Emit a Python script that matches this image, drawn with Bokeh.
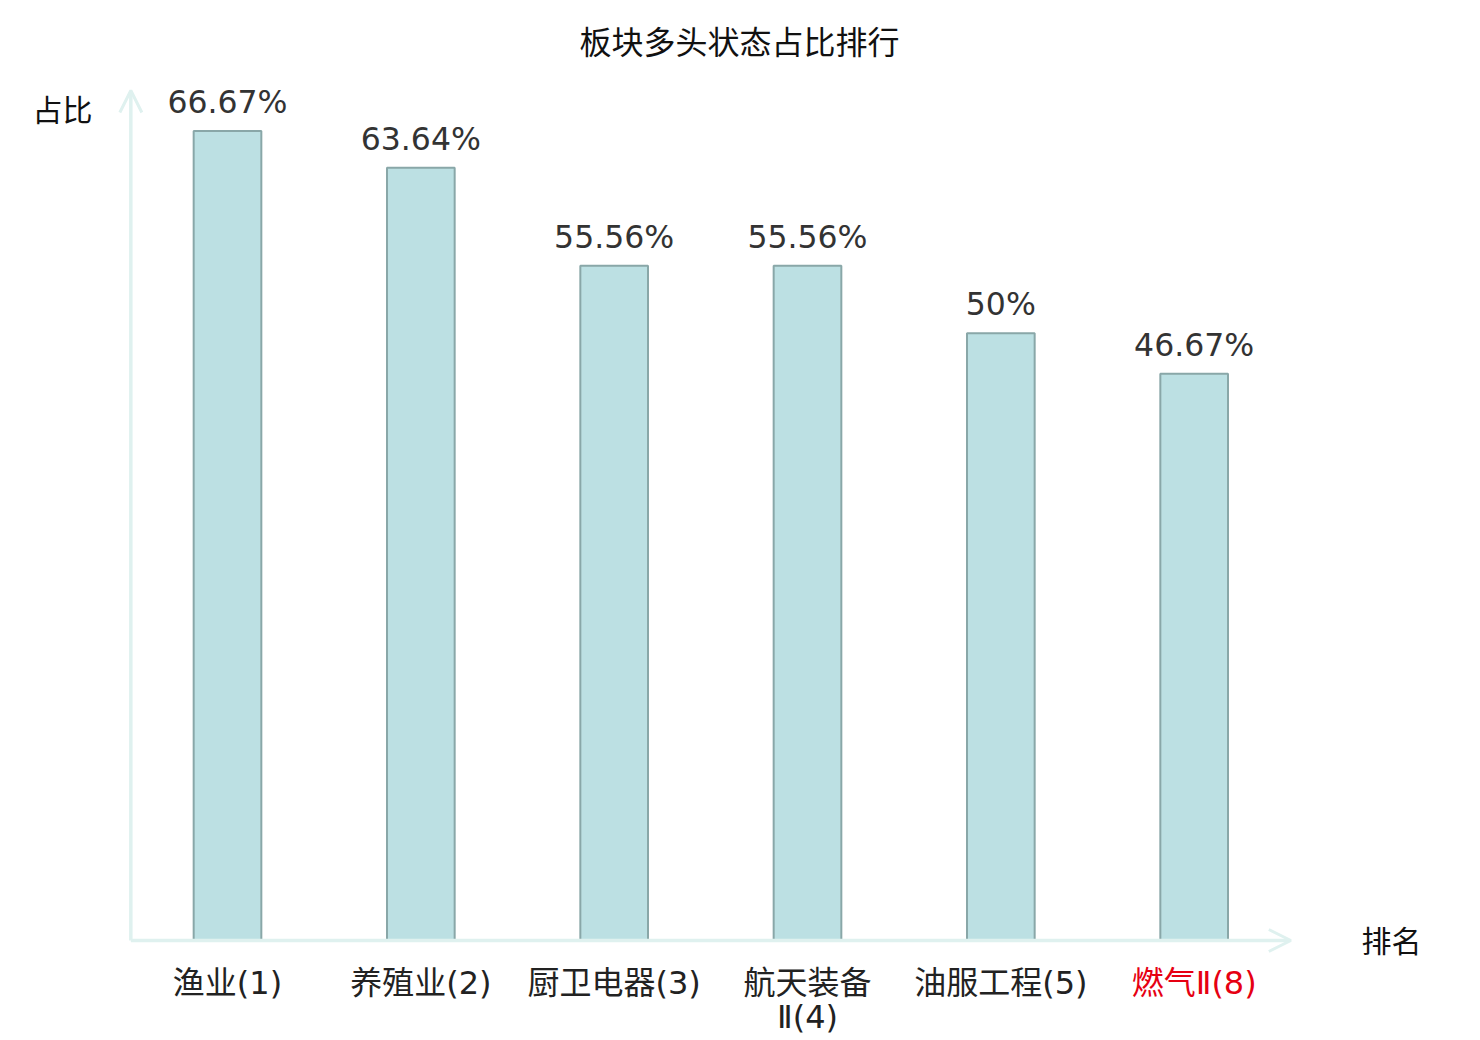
from bokeh.plotting import figure
from bokeh.models import Range1d, Arrow, OpenHead, Label, ColumnDataSource
from bokeh.core.properties import value
from bokeh.embed import file_html
from bokeh.resources import INLINE

# ---- data ----
categories = ["渔业(1)", "养殖业(2)", "厨卫电器(3)", "航天装备\nⅡ(4)", "油服工程(5)", "燃气Ⅱ(8)"]
values = [66.67, 63.64, 55.56, 55.56, 50, 46.67]
value_labels = ["66.67%", "63.64%", "55.56%", "55.56%", "50%", "46.67%"]
label_colors = ["#222222", "#222222", "#222222", "#222222", "#222222", "#e60012"]
title_text = "板块多头状态占比排行"
y_name = "占比"
x_name = "排名"

W, H = 1470, 1036
xs = list(range(len(categories)))
src = ColumnDataSource(dict(x=xs, top=values, vl=value_labels, cat=categories, col=label_colors))

PX_X = 193.333
PX_Y = 850 / 70.0
p = figure(width=W, height=H, output_backend="svg", toolbar_location=None,
           x_range=Range1d(-227 / PX_X, (W - 227) / PX_X),
           y_range=Range1d(-(H - 940) / PX_Y, 940 / PX_Y),
           x_axis_location=None, y_axis_location=None, min_border=0)
p.outline_line_color = None
p.grid.visible = False
p.background_fill_color = "white"

axis_col = "#dff1ef"
p.add_layout(Arrow(end=OpenHead(size=22, line_color=axis_col, line_width=3),
                   x_start=-0.5, y_start=0, x_end=5.5, y_end=0,
                   line_color=axis_col, line_width=3.5))
p.add_layout(Arrow(end=OpenHead(size=22, line_color=axis_col, line_width=3),
                   x_start=-0.5, y_start=0, x_end=-0.5, y_end=70,
                   line_color=axis_col, line_width=3.5))

p.vbar(x="x", top="top", bottom=0, width=0.35, source=src,
       fill_color="#bce0e3", line_color="#89a7a8", line_width=2)

p.text(x="x", y="top", text="vl", source=src, text_align="center",
       text_baseline="alphabetic", y_offset=-29, text_color="#333333",
       text_font=value("DejaVu Sans"), text_font_size="31.5px")

p.text(x="x", y=0, text="cat", source=src, text_align="center",
       text_baseline="top", y_offset=23, text_color="col",
       text_font=value("DejaVu Sans, Noto Sans CJK SC"), text_font_size="32px",
       text_line_height=0.92)

p.add_layout(Label(x=W / 2 + 4, y=H - 39, x_units="screen", y_units="screen", text=title_text,
                   text_align="center", text_baseline="middle", text_color="#111111",
                   text_font="Noto Sans CJK SC", text_font_size="32px"))
p.add_layout(Label(x=62, y=H - 107, x_units="screen", y_units="screen", text=y_name,
                   text_align="center", text_baseline="middle", text_color="#111111",
                   text_font="Noto Sans CJK SC", text_font_size="30px"))
p.add_layout(Label(x=1391, y=H - 938, x_units="screen", y_units="screen", text=x_name,
                   text_align="center", text_baseline="middle", text_color="#111111",
                   text_font="Noto Sans CJK SC", text_font_size="30px"))

open("out.html", "w").write(file_html(p, INLINE))
